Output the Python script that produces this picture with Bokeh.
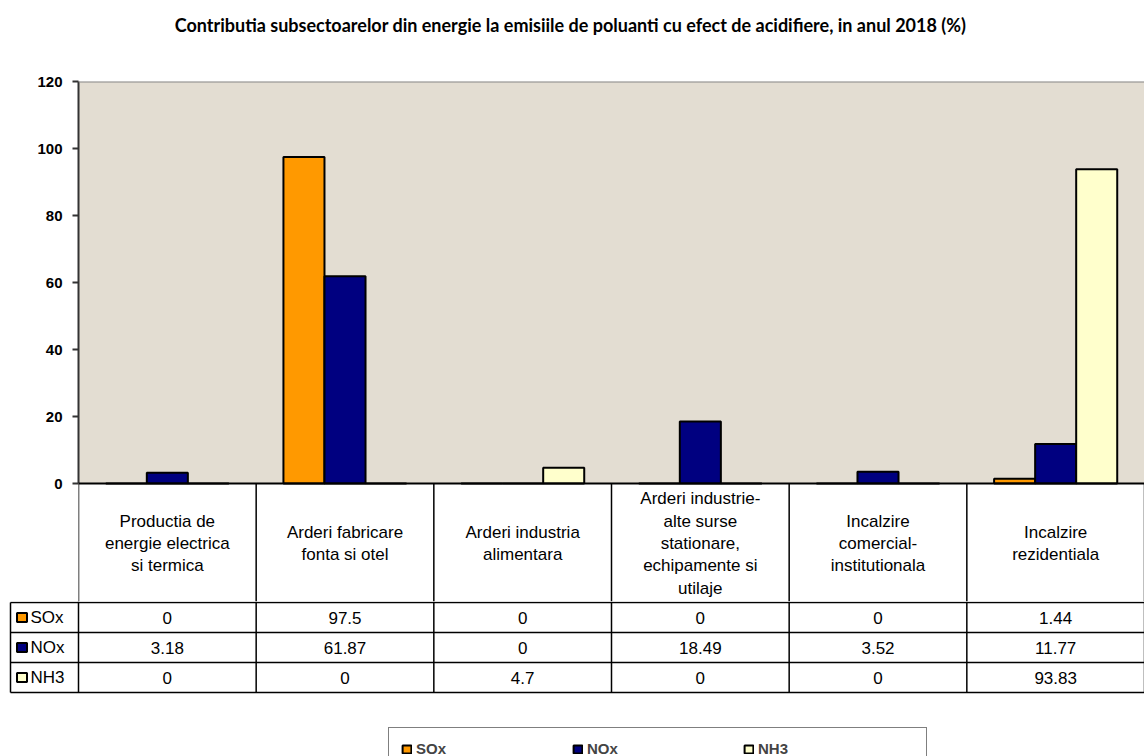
import numpy as np
from bokeh.plotting import figure
from bokeh.models import Range1d, Span, FixedTicker, Legend, LegendItem, BoxAnnotation
from bokeh.layouts import column
from bokeh.core.properties import value
from bokeh.embed import file_html
from bokeh.resources import INLINE

# ---------------- data ----------------
categories = [
    "Productia de\nenergie electrica\nsi termica",
    "Arderi fabricare\nfonta si otel",
    "Arderi industria\nalimentara",
    "Arderi industrie-\nalte surse\nstationare,\nechipamente si\nutilaje",
    "Incalzire\ncomercial-\ninstitutionala",
    "Incalzire\nrezidentiala",
]
series_names = ["SOx", "NOx", "NH3"]
sox = [0, 97.5, 0, 0, 0, 1.44]
nox = [3.18, 61.87, 0, 18.49, 3.52, 11.77]
nh3 = [0, 0, 4.7, 0, 0, 93.83]
y_ticks = [0, 20, 40, 60, 80, 100, 120]
title_text = "Contributia subsectoarelor din energie la emisiile de poluanti cu efect de acidifiere, in anul 2018 (%)"

colors = ["#FF9900", "#000080", "#FFFFCC"]
series_values = [sox, nox, nh3]

FONT = "Liberation Sans"
W = 1144
LEFT = 78
n = len(categories)
cat_px = (W - LEFT) / n

# pixel layout
TITLE_H = 72
FRAME_TOP = 81
ZERO_Y = 483
SPLIT_Y = 601
px_per_unit = (ZERO_Y - FRAME_TOP) / 120.0
y_min = -(SPLIT_Y - ZERO_Y) / px_per_unit
hdr_center = -((543 - ZERO_Y) / px_per_unit)


def bare(p):
    p.outline_line_color = None
    p.xgrid.visible = False
    p.ygrid.visible = False
    p.frame_align = False


# ---------------- title figure ----------------
pT = figure(width=W, height=TITLE_H, x_range=Range1d(0, W), y_range=Range1d(TITLE_H, 0),
            output_backend="svg", toolbar_location=None,
            x_axis_location=None, y_axis_location=None,
            min_border_left=0, min_border_right=0, min_border_top=0, min_border_bottom=0,
            background_fill_color="white", border_fill_color="white")
bare(pT)
pT.text(x=[570], y=[24], text=[title_text], text_align="center", text_baseline="middle",
        text_font=value("Lato"), text_font_size="18px", text_font_style="bold",
        text_color="black")

# ---------------- chart figure (chart + header row) ----------------
pA = figure(width=W, height=SPLIT_Y - TITLE_H, x_range=Range1d(0, n), y_range=Range1d(y_min, 120),
            output_backend="svg", toolbar_location=None, x_axis_location=None,
            min_border_left=LEFT, min_border_right=0, min_border_top=FRAME_TOP - TITLE_H,
            min_border_bottom=0,
            background_fill_color="white", border_fill_color="white")
bare(pA)

ax = pA.yaxis[0]
ax.bounds = (0, 120)
ax.ticker = FixedTicker(ticks=y_ticks)
ax.minor_tick_line_color = None
ax.major_tick_in = 0
ax.major_tick_out = 6
ax.axis_line_color = "#333333"
ax.axis_line_width = 2
ax.major_tick_line_color = "#333333"
ax.major_tick_line_width = 2
ax.major_label_text_font = FONT
ax.major_label_text_font_size = "15px"
ax.major_label_text_font_style = "bold"
ax.major_label_text_color = "black"
ax.major_label_standoff = 10

pA.add_layout(BoxAnnotation(bottom=0, top=120, fill_color="#E3DDD2", fill_alpha=1,
                            line_color=None, level="underlay"))

bw = 0.231
xs = np.arange(n) + 0.5
for k, (vals, col) in enumerate(zip(series_values, colors)):
    pA.vbar(x=xs + (k - 1) * bw, top=vals, bottom=0, width=bw,
            fill_color=col, line_color="black", line_width=2)

pA.add_layout(Span(location=120, dimension="width", line_color="#888888", line_width=2))
pA.add_layout(Span(location=0, dimension="width", line_color="black", line_width=2))

# header row of the data table
vx = list(range(n + 1))
pA.segment(x0=vx, y0=[0] * len(vx), x1=vx, y1=[y_min] * len(vx),
           line_color="black", line_width=1.5)
pA.text(x=xs, y=[hdr_center] * n, text=categories, text_align="center",
        text_baseline="middle", text_font=value(FONT), text_font_size="17px",
        text_line_height=1.18, text_color="black")

# ---------------- table rows + legend figure ----------------
BH = 756 - SPLIT_Y
x0 = -LEFT / cat_px
pB = figure(width=W, height=BH, x_range=Range1d(x0, n), y_range=Range1d(BH, 0),
            output_backend="svg", toolbar_location=None,
            x_axis_location=None, y_axis_location=None,
            min_border_left=0, min_border_right=0, min_border_top=0, min_border_bottom=0,
            background_fill_color="white", border_fill_color="white")
bare(pB)

row_top = 602 - SPLIT_Y
row_h = 30
hy = [row_top + row_h * i for i in range(4)]
table_bottom = hy[-1]
left_edge = (10 - LEFT) / cat_px

pB.segment(x0=vx, y0=[0] * len(vx), x1=vx, y1=[table_bottom] * len(vx),
           line_color="black", line_width=1.5)
pB.segment(x0=[left_edge], y0=[row_top], x1=[left_edge], y1=[table_bottom],
           line_color="black", line_width=1.5)
pB.segment(x0=[left_edge] * len(hy), y0=hy, x1=[n] * len(hy), y1=hy,
           line_color="black", line_width=1.5)


def fmt(v):
    return f"{v:g}"


sq_renderers = []
for k, (name, vals, col) in enumerate(zip(series_names, series_values, colors)):
    yc = row_top + row_h * k + row_h / 2
    pB.text(x=xs, y=[yc] * n, text=[fmt(v) for v in vals], text_align="center",
            text_baseline="middle", text_font=value(FONT), text_font_size="17px",
            text_color="black")
    r = pB.rect(x=[(21.5 - LEFT) / cat_px], y=[yc], width=10, height=9,
                width_units="screen", height_units="screen",
                fill_color=col, line_color="black", line_width=2)
    sq_renderers.append(r)
    pB.text(x=[(30 - LEFT) / cat_px], y=[yc], text=[name], text_align="left",
            text_baseline="middle", text_font=value(FONT), text_font_size="17px",
            text_color="black")

legend = Legend(items=[LegendItem(label=nm, renderers=[r]) for nm, r in zip(series_names, sq_renderers)],
                orientation="horizontal", location=(388, -14),
                glyph_width=11, glyph_height=10, label_standoff=4, label_width=156,
                label_height=14, spacing=0, padding=12, margin=0,
                label_text_font=FONT, label_text_font_size="15px", label_text_font_style="bold",
                border_line_color="black", border_line_width=1.5,
                background_fill_color="white", background_fill_alpha=1)
pB.add_layout(legend, "center")

layout = column(pT, pA, pB, spacing=0)
open("out.html", "w").write(file_html(layout, INLINE))
